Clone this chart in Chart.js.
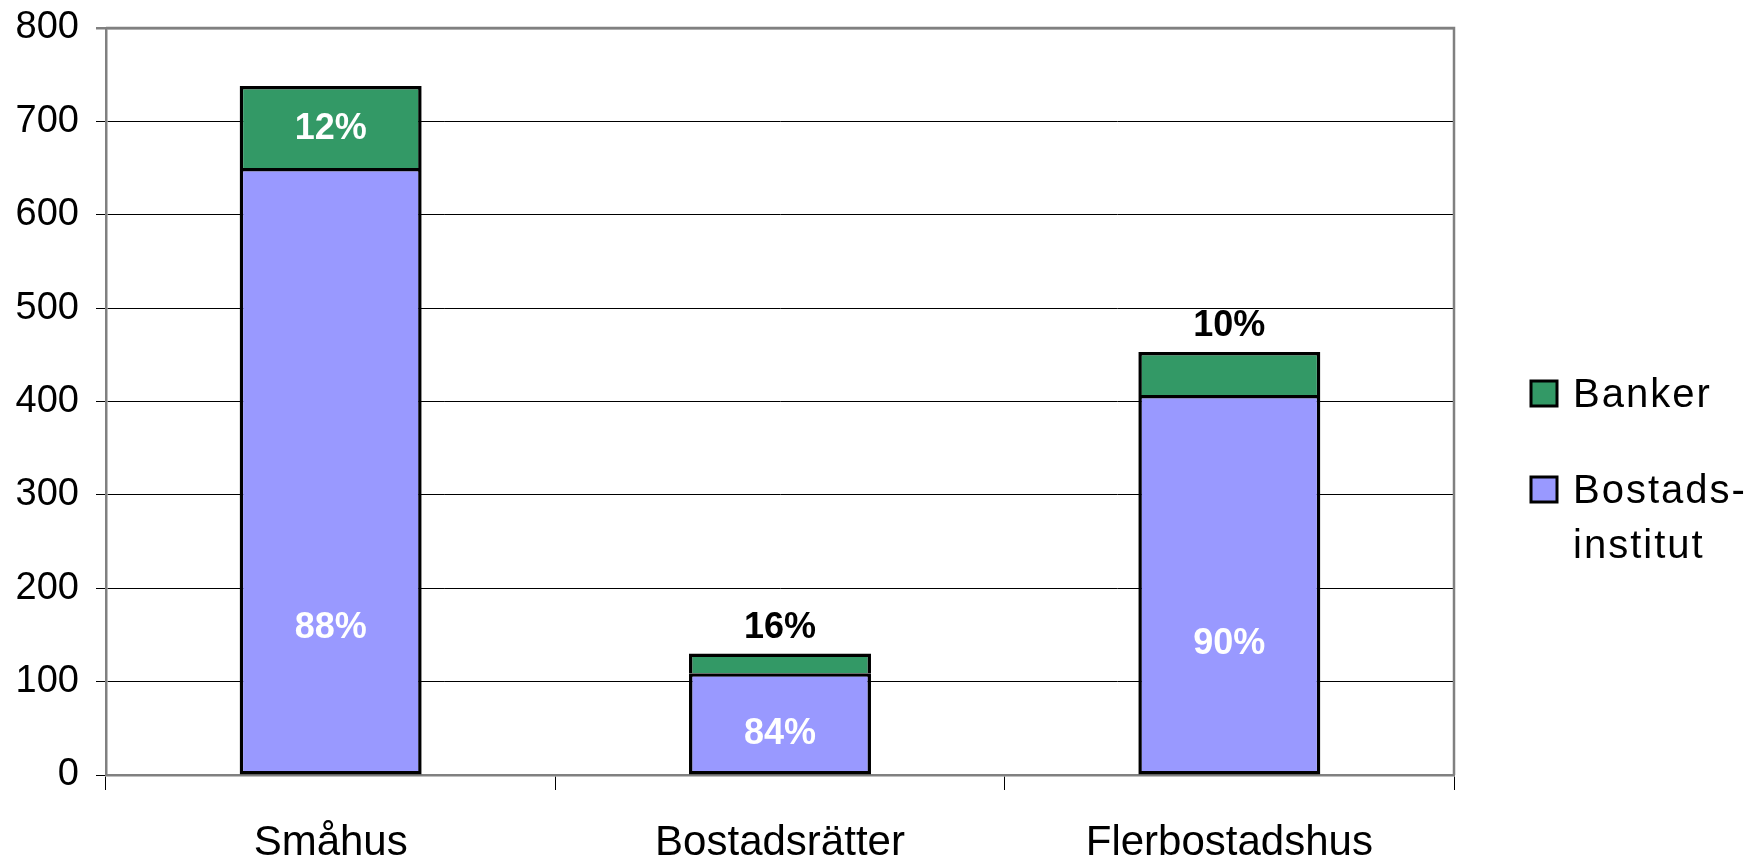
<!DOCTYPE html>
<html>
<head>
<meta charset="utf-8">
<script src="https://cdn.jsdelivr.net/npm/chart.js@4/dist/chart.umd.min.js"></script>
<style>
  body { margin: 0; background: #fff; }
  canvas { display: block; }
</style>
</head>
<body>
<canvas id="chart" width="1762" height="858"></canvas>
<script>
const categories = ['Småhus', 'Bostadsrätter', 'Flerbostadshus'];
const bostadsinstitut = [650, 109, 407];
const banker = [88, 21, 46];
const yTicks = [0, 100, 200, 300, 400, 500, 600, 700, 800];

const FONT = "'Liberation Sans', Arial, sans-serif";

// percentage labels, drawn on top of the bars
const pctLabels = {
    id: 'pctLabels',
    afterDatasetsDraw(chart, args, opts) {
        const ctx = chart.ctx;
        const y = chart.scales.y;
        const low = chart.getDatasetMeta(0);
        const high = chart.getDatasetMeta(1);
        ctx.save();
        ctx.font = 'bold 36px ' + FONT;
        ctx.textAlign = 'center';
        ctx.textBaseline = 'middle';
        categories.forEach((c, i) => {
            const total = bostadsinstitut[i] + banker[i];
            const pLow = Math.round(bostadsinstitut[i] / total * 100) + '%';
            const pHigh = Math.round(banker[i] / total * 100) + '%';
            const bar = high.data[i];
            // upper segment
            const h = Math.abs(bar.base - bar.y);
            if (h > 60) {
                ctx.fillStyle = '#fff';
                ctx.fillText(pHigh, bar.x, (bar.y + bar.base) / 2 + 2);
            } else {
                ctx.fillStyle = '#000';
                ctx.fillText(pHigh, bar.x, bar.y - 26);
            }
            // lower segment
            ctx.fillStyle = '#fff';
            ctx.fillText(pLow, low.data[i].x, y.getPixelForValue(opts.lowAt[i]));
        });
        ctx.restore();
    }
};

// frame on top and right, legend on the right
const frameLegend = {
    id: 'frameLegend',
    afterDraw(chart) {
        const ctx = chart.ctx;
        const a = chart.chartArea;
        ctx.save();
        ctx.strokeStyle = '#808080';
        ctx.lineWidth = 2.5;
        ctx.beginPath();
        ctx.moveTo(a.left, a.top);
        ctx.lineTo(a.right, a.top);
        ctx.lineTo(a.right, a.bottom);
        ctx.stroke();

        const items = [
            { ds: chart.data.datasets[1], lines: ['Banker'], top: 381 },
            { ds: chart.data.datasets[0], lines: ['Bostads-', 'institut'], top: 477 }
        ];
        ctx.font = '40px ' + FONT;
        ctx.letterSpacing = '2px';
        ctx.textBaseline = 'alphabetic';
        ctx.textAlign = 'left';
        items.forEach(it => {
            ctx.fillStyle = it.ds.backgroundColor;
            ctx.fillRect(1531, it.top, 26, 25);
            ctx.strokeStyle = '#000';
            ctx.lineWidth = 3;
            ctx.strokeRect(1531, it.top, 26, 25);
            ctx.fillStyle = '#000';
            it.lines.forEach((t, k) => ctx.fillText(t, 1573, it.top + 26 + k * 55));
        });
        ctx.restore();
    }
};

new Chart(document.getElementById('chart'), {
    type: 'bar',
    data: {
        labels: categories,
        datasets: [{
            label: 'Bostadsinstitut',
            data: bostadsinstitut,
            backgroundColor: '#9999FF',
            borderColor: '#000',
            borderWidth: 3.5,
            borderSkipped: false,
            categoryPercentage: 1,
            barPercentage: 0.405,
        }, {
            label: 'Banker',
            data: banker,
            backgroundColor: '#339966',
            borderColor: '#000',
            borderWidth: { top: 3.5, left: 3.5, right: 3.5, bottom: 0 },
            borderSkipped: false,
            categoryPercentage: 1,
            barPercentage: 0.405,
        }],
    },
    options: {
        responsive: false,
        animation: false,
        devicePixelRatio: 1,
        layout: { padding: { top: 28, right: 308, left: 0, bottom: 0 } },
        plugins: {
            legend: { display: false },
            tooltip: { enabled: false },
            pctLabels: { lowAt: [157, 44, 140] },
        },
        scales: {
            x: {
                stacked: true,
                afterFit: s => { s.height = 83; s.paddingLeft = 0; s.paddingRight = 0; },
                grid: {
                    drawOnChartArea: false,
                    drawTicks: true,
                    tickLength: 15,
                    color: '#000',
                },
                border: { color: '#808080', width: 2.5 },
                ticks: {
                    color: '#000',
                    font: { family: FONT, size: 42 },
                    padding: 28,
                },
            },
            y: {
                stacked: true,
                min: 0,
                max: 800,
                afterFit: s => { s.width = 106; s.paddingTop = 0; s.paddingBottom = 0; },
                afterBuildTicks: s => { s.ticks = yTicks.map(v => ({ value: v })); },
                grid: {
                    tickLength: 10,
                    color: c => (c.tick && c.tick.value === 800) ? '#808080' : '#000',
                    lineWidth: c => (c.tick && c.tick.value === 800) ? 2.5 : 1,
                },
                border: { color: '#808080', width: 2.5 },
                ticks: {
                    color: '#000',
                    font: { family: FONT, size: 38 },
                    padding: 17,
                },
            },
        },
    },
    plugins: [pctLabels, frameLegend],
});
</script>
</body>
</html>
